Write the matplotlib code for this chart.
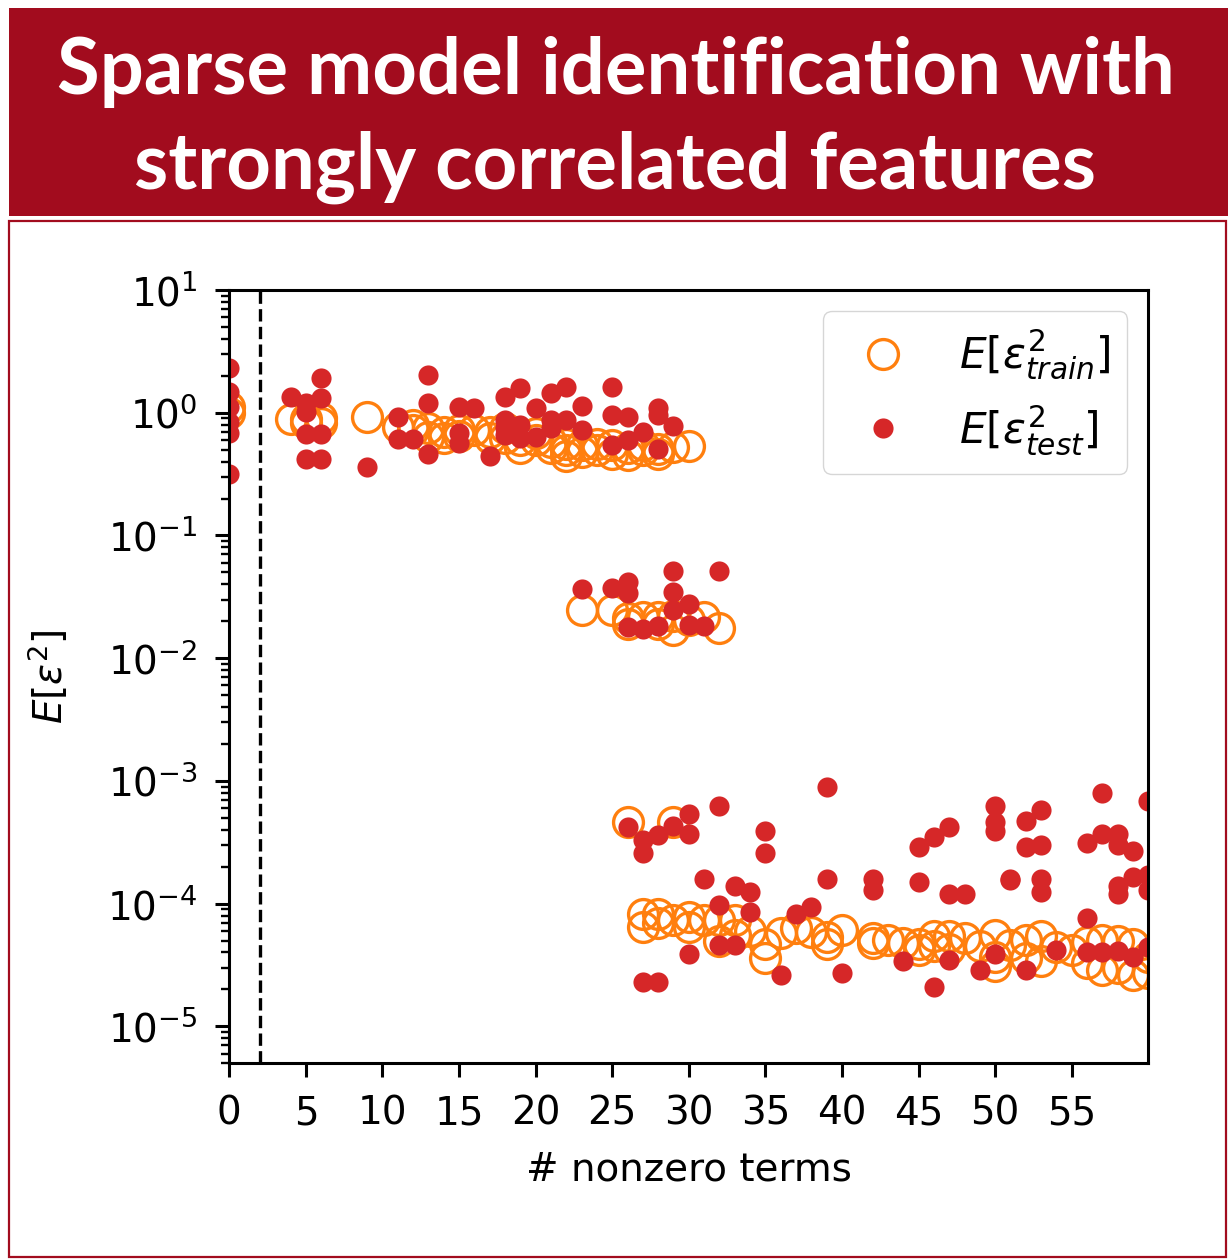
import matplotlib.pyplot as plt
from matplotlib.patches import Rectangle

plt.rcParams['font.family'] = 'DejaVu Sans'
plt.rcParams['mathtext.fontset'] = 'dejavusans'

# training error of every fitted model (x = number of nonzero terms)
train_x = [0, 0, 4, 5, 5, 6, 6, 9, 11, 12, 12, 13, 13, 14, 14, 15, 15, 16, 17, 17,
           18, 18, 19, 19, 20, 20, 21, 21, 22, 22, 22, 23, 23, 24, 24, 25, 25,
           26, 26, 27, 27, 28, 28, 29, 30,
           23, 25, 26, 26, 27, 28, 28, 29, 29, 30, 31, 32,
           26, 29,
           27, 27, 28, 28, 29, 30, 30, 31, 32, 32, 33, 33, 34, 35, 35, 36, 37,
           38, 39, 39, 40, 42, 42, 43, 44, 45, 45, 46, 46, 47, 47, 48, 49, 50,
           50, 50, 51, 52, 52, 53, 53, 54, 55, 56, 56, 57, 57, 58, 58, 59, 59,
           60, 60]
train_y = [1.0, 1.12, 0.89, 0.89, 0.82, 0.82, 0.9, 0.92, 0.77, 0.72, 0.8, 0.64,
           0.75, 0.62, 0.70, 0.72, 0.65, 0.72, 0.70, 0.62, 0.62, 0.75, 0.52, 0.6,
           0.60, 0.68, 0.52, 0.58, 0.44, 0.5, 0.56, 0.48, 0.55, 0.50, 0.56, 0.46,
           0.55, 0.45, 0.52, 0.50, 0.55, 0.51, 0.46, 0.53, 0.54,
           0.0247, 0.0247, 0.0211, 0.019, 0.0217, 0.0217, 0.019, 0.0170, 0.022,
           0.0204, 0.0217, 0.0175,
           4.64e-4, 4.64e-4,
           8.3e-5, 6.5e-5, 8.3e-5, 7.0e-5, 7.3e-5, 7.8e-5, 6.5e-5, 7.3e-5, 7.3e-5,
           5.0e-5, 7.3e-5, 5.5e-5, 6.0e-5, 4.7e-5, 3.6e-5, 5.8e-5, 6.3e-5, 5.9e-5,
           5.3e-5, 4.7e-5, 6.1e-5, 5.2e-5, 4.8e-5, 5.1e-5, 4.8e-5, 4.7e-5, 4.2e-5,
           5.4e-5, 4.5e-5, 5.4e-5, 4.3e-5, 5.2e-5, 4.5e-5, 5.6e-5, 3.7e-5, 3.1e-5,
           4.6e-5, 5.1e-5, 3.6e-5, 5.4e-5, 3.4e-5, 4.4e-5, 4.2e-5, 4.9e-5, 3.3e-5,
           5.1e-5, 2.9e-5, 5.0e-5, 3.0e-5, 4.7e-5, 2.6e-5, 3.7e-5, 2.7e-5]

# test error of the same models
test_x = [0, 0, 0, 0, 0, 0, 4, 5, 5, 5, 5, 6, 6, 6, 6, 9, 11, 11, 12, 13, 13, 13,
          15, 15, 15, 16, 17, 18, 18, 18, 18, 19, 19, 19, 20, 20, 21, 21, 21,
          22, 22, 23, 23, 25, 25, 25, 26, 26, 27, 28, 28, 28, 29,
          23, 25, 26, 26, 26, 27, 28, 29, 29, 29, 30, 30, 31, 32,
          26, 27, 27, 27, 28, 28, 29, 30, 30, 30, 31, 32, 32, 32, 33, 33, 34, 34,
          35, 35, 36, 37, 38, 39, 39, 40, 42, 42, 44, 45, 45, 46, 46, 47, 47, 47,
          48, 49, 50, 50, 50, 50, 51, 51, 52, 52, 52, 53, 53, 53, 53, 54, 56, 56,
          56, 57, 57, 57, 58, 58, 58, 58, 58, 59, 59, 59, 60, 60, 60, 60]
test_y = [2.31, 1.48, 1.12, 0.845, 0.68, 0.316, 1.34, 1.2, 1.02, 0.67, 0.42, 1.91,
          1.31, 0.67, 0.42, 0.36, 0.92, 0.61, 0.61, 2.03, 1.19, 0.46, 1.12, 0.68,
          0.57, 1.09, 0.44, 1.35, 0.88, 0.66, 0.75, 1.58, 0.8, 0.62, 1.09, 0.64,
          1.44, 0.87, 0.75, 1.63, 0.87, 1.13, 0.72, 1.61, 0.96, 0.55, 0.93, 0.6,
          0.70, 1.09, 0.95, 0.51, 0.78,
          0.0365, 0.037, 0.0419, 0.0338, 0.0179, 0.0172, 0.0183, 0.0515, 0.0347,
          0.0246, 0.0274, 0.0186, 0.0183, 0.0515,
          4.2e-4, 3.3e-4, 2.6e-4, 2.3e-5, 3.6e-4, 2.3e-5, 4.3e-4, 5.4e-4, 3.7e-4,
          3.9e-5, 1.6e-4, 6.3e-4, 9.8e-5, 4.6e-5, 1.4e-4, 4.6e-5, 1.25e-4, 8.6e-5,
          3.9e-4, 2.6e-4, 2.6e-5, 8.3e-5, 9.4e-5, 9.0e-4, 1.6e-4, 2.7e-5, 1.6e-4,
          1.3e-4, 3.4e-5, 2.9e-4, 1.5e-4, 3.5e-4, 2.1e-5, 4.2e-4, 1.2e-4, 3.5e-5,
          1.2e-4, 2.9e-5, 6.3e-4, 4.6e-4, 3.9e-4, 3.9e-5, 1.6e-4, 1.55e-4, 4.7e-4,
          2.9e-4, 2.9e-5, 5.8e-4, 3.0e-4, 1.6e-4, 1.25e-4, 4.2e-5, 3.1e-4, 7.7e-5,
          4.0e-5, 8.0e-4, 3.7e-4, 4.0e-5, 3.7e-4, 3.0e-4, 1.4e-4, 1.2e-4, 4.1e-5,
          2.7e-4, 1.65e-4, 3.7e-5, 6.8e-4, 1.7e-4, 1.3e-4, 4.4e-5]

x_ticks = list(range(0, 60, 5))
true_terms = 2

titel = 'Sparse model identification with\nstrongly correlated features'
kolor_ramki = '#a20c1e'

W, H = 1231, 1260
fig = plt.figure(figsize=(W / 100, H / 100), dpi=100)

# banner and frame of the panel
fig.patches.append(Rectangle((9 / W, 1 - 216 / H), 1219 / W, 208 / H,
                             transform=fig.transFigure, facecolor=kolor_ramki,
                             edgecolor='none', zorder=0))
fig.patches.append(Rectangle((9 / W, 1 - 1257 / H), 1217 / W, 1036 / H,
                             transform=fig.transFigure, facecolor='none',
                             edgecolor=kolor_ramki, lw=1.6, zorder=0))
fig.text(0.5, 1 - 120 / H, titel, ha='center', va='center', color='white',
         fontsize=56, fontweight='bold', family=['Lato', 'DejaVu Sans'],
         linespacing=1.4)

ax = fig.add_axes([229.3 / W, 1 - 1063.3 / H, 919 / W, 773.3 / H])
ax.set_zorder(2)

ax.plot(train_x, train_y, 'o', mfc='none', mec='#ff7f0e', ms=21.5, mew=2.4,
        label=r'$E[\varepsilon^2_{train}]$')
ax.plot(test_x, test_y, 'o', color='#d62728', ms=14.5, mew=0,
        label=r'$E[\varepsilon^2_{test}]$')
ax.axvline(true_terms, color='k', ls='--', lw=2.4)

ax.set_yscale('log')
ax.set_xlim(0, 60)
ax.set_ylim(5e-6, 10)
ax.set_xticks(x_ticks)
ax.set_xlabel('# nonzero terms', fontsize=28, labelpad=13)
ax.set_ylabel(r'$E[\varepsilon^2]$', fontsize=28, labelpad=26)
ax.tick_params(which='major', labelsize=28, length=10, width=2.2)
ax.tick_params(axis='x', which='major', pad=12.5)
ax.tick_params(axis='y', which='major', pad=13)
ax.tick_params(which='minor', length=5.6, width=1.7)
for s in ax.spines.values():
    s.set_linewidth(2.2)

ax.legend(loc='upper right', fontsize=30.5)

fig.savefig('out.png', dpi=100)
